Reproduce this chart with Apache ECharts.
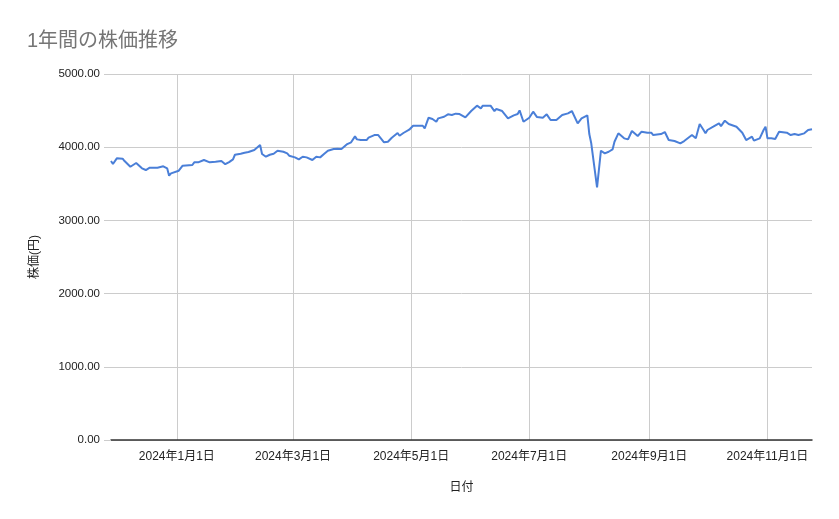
<!DOCTYPE html>
<html><head><meta charset="utf-8">
<script src="https://cdn.jsdelivr.net/npm/echarts@6/dist/echarts.min.js"></script>
<style>html,body{margin:0;padding:0;background:#fff}#c{width:839px;height:519px}</style>
</head><body><div id="c"></div>
<script>
const dates = [
'2023-11-28','2023-11-29','2023-12-01','2023-12-04','2023-12-05','2023-12-06','2023-12-08','2023-12-11','2023-12-14','2023-12-16',
'2023-12-17','2023-12-18','2023-12-22','2023-12-25','2023-12-27','2023-12-28','2023-12-29','2024-01-02','2024-01-04','2024-01-09',
'2024-01-10','2024-01-12','2024-01-15','2024-01-16','2024-01-18','2024-01-21','2024-01-24','2024-01-26','2024-01-28','2024-01-30',
'2024-01-31','2024-02-03','2024-02-05','2024-02-07','2024-02-08','2024-02-10','2024-02-13','2024-02-14','2024-02-16','2024-02-18',
'2024-02-20','2024-02-22','2024-02-25','2024-02-27','2024-02-28','2024-03-02','2024-03-04','2024-03-06','2024-03-08','2024-03-11',
'2024-03-13','2024-03-15','2024-03-17','2024-03-19','2024-03-22','2024-03-24','2024-03-26','2024-03-29','2024-03-31','2024-04-02',
'2024-04-03','2024-04-04','2024-04-05','2024-04-08','2024-04-09','2024-04-10','2024-04-12','2024-04-14','2024-04-17','2024-04-19',
'2024-04-21','2024-04-24','2024-04-25','2024-04-27','2024-04-30','2024-05-02','2024-05-07','2024-05-08','2024-05-10','2024-05-12',
'2024-05-14','2024-05-15','2024-05-18','2024-05-20','2024-05-22','2024-05-24','2024-05-26','2024-05-29','2024-06-01','2024-06-04',
'2024-06-06','2024-06-07','2024-06-11','2024-06-12','2024-06-13','2024-06-14','2024-06-17','2024-06-18','2024-06-20','2024-06-23',
'2024-06-25','2024-06-26','2024-06-28','2024-07-01','2024-07-03','2024-07-05','2024-07-08','2024-07-10','2024-07-12','2024-07-15',
'2024-07-18','2024-07-21','2024-07-23','2024-07-26','2024-07-28','2024-07-31','2024-08-01','2024-08-02','2024-08-05','2024-08-07',
'2024-08-09','2024-08-11','2024-08-13','2024-08-14','2024-08-16','2024-08-19','2024-08-21','2024-08-23','2024-08-26','2024-08-28',
'2024-08-31','2024-09-02','2024-09-03','2024-09-04','2024-09-07','2024-09-09','2024-09-11','2024-09-12','2024-09-14','2024-09-17',
'2024-09-19','2024-09-23','2024-09-25','2024-09-27','2024-09-29','2024-09-30','2024-10-01','2024-10-04','2024-10-07','2024-10-08',
'2024-10-10','2024-10-12','2024-10-16','2024-10-17','2024-10-19','2024-10-21','2024-10-22','2024-10-24','2024-10-25','2024-10-28',
'2024-10-30','2024-10-31','2024-11-01','2024-11-03','2024-11-05','2024-11-07','2024-11-08','2024-11-11','2024-11-13','2024-11-15',
'2024-11-17','2024-11-20','2024-11-22','2024-11-24'
];
const prices = [
3811,3770,3848,3843,3811,3838,3733,3784,3711,3688,
3665,3720,3720,3739,3711,3611,3643,3679,3747,3757,
3793,3793,3825,3838,3793,3802,3813,3768,3797,3834,
3897,3911,3925,3934,3916,3961,4030,3907,3870,3897,
3911,3952,3938,3916,3884,3861,3834,3870,3861,3825,
3870,3861,3907,3952,3975,3980,3975,4043,4067,4148,
4107,4130,4098,4098,4130,4121,4166,4166,4067,4075,
4130,4194,4157,4194,4239,4293,4293,4258,4403,4385,
4348,4394,4416,4449,4440,4458,4453,4408,4494,4567,
4531,4567,4567,4544,4494,4522,4494,4485,4394,4435,
4453,4503,4348,4403,4485,4412,4403,4449,4371,4371,
4440,4462,4494,4325,4394,4435,4180,4053,3452,3952,
3916,3938,3970,4075,4189,4121,4107,4221,4153,4212,
4198,4198,4166,4189,4180,4207,4098,4107,4084,4053,
4084,4166,4121,4317,4235,4189,4235,4280,4326,4289,
4362,4317,4280,4289,4198,4098,4089,4144,4089,4121,
4235,4280,4121,4121,4112,4212,4198,4198,4166,4180,
4166,4189,4235,4244
];
const xTicks = ['2024-01-01','2024-03-01','2024-05-01','2024-07-01','2024-09-01','2024-11-01'];
const xRange = ['2023-11-28','2024-11-24'];
const yTicks = [0,1000,2000,3000,4000,5000];

const ts = s => Date.UTC(+s.slice(0,4), +s.slice(5,7) - 1, +s.slice(8,10));
const font = "'Liberation Sans','Noto Sans CJK JP',sans-serif";
const chart = echarts.init(document.getElementById('c'));
chart.setOption({
  animation: false,
  title: { text: '1年間の株価推移', left: 22, top: 26,
    textStyle: { color: '#757575', fontSize: 20, fontWeight: 'normal', fontFamily: font } },
  grid: { left: 111, right: 27, top: 74, bottom: 79, containLabel: false },
  xAxis: {
    type: 'value',
    min: ts(xRange[0]), max: ts(xRange[1]),
    name: '日付', nameLocation: 'middle', nameGap: 42,
    nameTextStyle: { color: '#222', fontSize: 12, fontFamily: font },
    axisLine: { show: true, lineStyle: { color: '#333', width: 1.5 } },
    axisTick: { show: false, customValues: xTicks.map(ts) },
    axisLabel: { customValues: xTicks.map(ts),
      color: '#222', fontSize: 12, fontFamily: font, margin: 11,
      formatter: v => { const d = new Date(v); return d.getUTCFullYear() + '年' + (d.getUTCMonth() + 1) + '月' + d.getUTCDate() + '日'; } },
    splitLine: { show: true, lineStyle: { color: '#cccccc', width: 1 } }
  },
  yAxis: {
    type: 'value', min: yTicks[0], max: yTicks[yTicks.length - 1], interval: 1000,
    name: '株価(円)', nameLocation: 'middle', nameGap: 70, nameRotate: 90,
    nameTextStyle: { color: '#222', fontSize: 12, fontFamily: font },
    axisLine: { show: false },
    axisTick: { show: true, length: 7, lineStyle: { color: '#cccccc' } },
    axisLabel: { color: '#222', fontSize: 11.5, fontFamily: font, margin: 11,
      formatter: v => v.toFixed(2) },
    splitLine: { show: true, lineStyle: { color: '#cccccc', width: 1 } }
  },
  series: [{
    type: 'line',
    data: dates.map((d, i) => [ts(d), prices[i]]),
    showSymbol: false, symbol: 'none',
    lineStyle: { color: '#4a7fd8', width: 2 },
    itemStyle: { color: '#4a7fd8' }
  }]
});
</script></body></html>
